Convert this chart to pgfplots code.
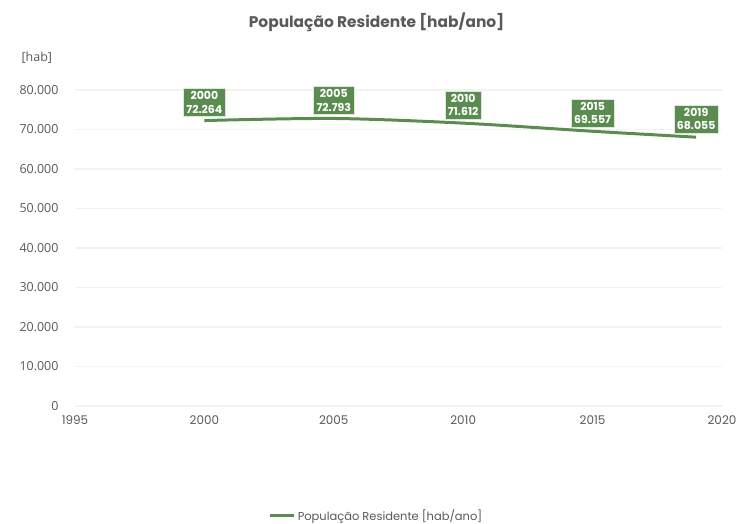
\documentclass[border=0pt]{standalone}
\usepackage{pgfplots}
\pgfplotsset{compat=1.18}
\usepackage{fontspec}
\setmainfont{Poppins}
\newfontfamily\tickfont{Open Sans}
\definecolor{popgreen}{RGB}{91,140,79}
\definecolor{txtgray}{RGB}{89,89,89}
\definecolor{gridgray}{RGB}{242,242,242}
\begin{document}
\begin{tikzpicture}[x=1bp,y=1bp]
\useasboundingbox (-75bp,-118bp) rectangle (667bp,406bp);
\begin{axis}[
    scale only axis,
    width=647bp, height=316bp,
    xmin=1995, xmax=2020,
    ymin=0, ymax=80000,
    xtick={1995,2000,...,2020},
    ytick={0,10000,...,80000},
    axis line style={draw=none},
    tick style={draw=none},
    ymajorgrids,
    grid style={gridgray, line width=1.2pt},
    scaled y ticks=false,
    /pgf/number format/.cd, use comma, 1000 sep={.}, assume math mode=true,
    /pgfplots/.cd,
    yticklabel style={font=\tickfont\fontsize{12.5}{14}\selectfont, text=txtgray, xshift=-13bp},
    xticklabel style={font=\fontsize{12}{14}\selectfont, text=txtgray, yshift=-6bp},
    xticklabel={\pgfmathprintnumber[1000 sep={}]{\tick}},
    legend style={at={(0.466,-0.348)}, anchor=center, draw=none,
        font=\fontsize{11.5}{13}\selectfont, text=txtgray},
    legend image post style={line width=3pt},
    legend image code/.code={\draw[#1] (0bp,0bp) -- (24bp,0bp);},
    nodes near coords,
    point meta=explicit symbolic,
    every node near coord/.append style={
        anchor=south, yshift=4bp, fill=popgreen, text=white,
        font=\bfseries\fontsize{11}{13.5}\selectfont, align=center,
        inner sep=3bp, draw=white!80!popgreen, line width=0.6pt},
    clip=false,
]
\addplot[popgreen, line width=3pt, smooth, tension=0.5] table[meta=lab, row sep=\\] {
x y lab\\
2000 72264 {2000\\72.264}\\
2005 72793 {2005\\72.793}\\
2010 71612 {2010\\71.612}\\
2015 69557 {2015\\69.557}\\
2019 68055 {2019\\68.055}\\
};
\addlegendentry{População Residente [hab/ano]}
\node[font=\bfseries\fontsize{15.5}{18}\selectfont, text=txtgray] at (axis description cs:0.466,1.215) {População Residente [hab/ano]};
\node[font=\tickfont\fontsize{12.5}{14}\selectfont, text=txtgray] at (axis description cs:-0.059,1.101) {[hab]};
\end{axis}
\end{tikzpicture}
\end{document}
